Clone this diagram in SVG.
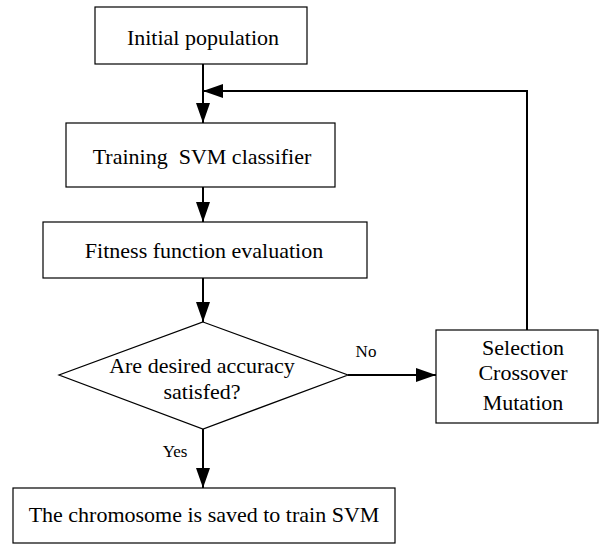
<svg xmlns="http://www.w3.org/2000/svg" width="599" height="545" viewBox="0 0 599 545">
<style>
.box{fill:#fff;stroke:#000;stroke-width:1.2}
.t{font-family:'Times New Roman','Liberation Serif','DejaVu Serif',serif;font-size:22px;fill:#000;text-anchor:middle;white-space:pre}
.lbl{font-family:'Times New Roman','Liberation Serif','DejaVu Serif',serif;font-size:17px;fill:#000;text-anchor:middle}
.c{fill:none;stroke:#000;stroke-width:2}
</style>
<defs>
<marker id="ah" viewBox="0 0 20 14" refX="20" refY="7" markerWidth="20" markerHeight="14" markerUnits="userSpaceOnUse" orient="auto">
<path d="M0,0 L20,7 L0,14 Z" fill="#000"/>
</marker>
</defs>
<rect width="599" height="545" fill="#fff"/>
<g id="connectors">
<line class="c" x1="203" y1="64" x2="203" y2="123" marker-end="url(#ah)"/>
<polyline class="c" points="527,330 527,91 203,91" marker-end="url(#ah)"/>
<line class="c" x1="203" y1="187" x2="203" y2="222" marker-end="url(#ah)"/>
<line class="c" x1="203" y1="278" x2="203" y2="322" marker-end="url(#ah)"/>
<line class="c" x1="348" y1="375" x2="436" y2="375" marker-end="url(#ah)"/>
<line class="c" x1="203" y1="429" x2="203" y2="488" marker-end="url(#ah)"/>
<text class="lbl" x="366" y="357">No</text>
<text class="lbl" x="175" y="457">Yes</text>
</g>
<g id="n1">
<rect class="box" x="95" y="7" width="212" height="57"/>
<text class="t" x="203" y="45">Initial population</text>
</g>
<g id="n2">
<rect class="box" x="66" y="123" width="269" height="64"/>
<text class="t" x="202" y="164">Training  SVM classifier</text>
</g>
<g id="n3">
<rect class="box" x="43" y="222" width="324" height="56"/>
<text class="t" x="204" y="258">Fitness function evaluation</text>
</g>
<g id="n4">
<polygon class="box" points="203,322 348,375 203,429 59,375"/>
<text class="t" x="202" y="373">Are desired accuracy</text>
<text class="t" x="202" y="399">satisfed?</text>
</g>
<g id="n5">
<rect class="box" x="436" y="330" width="162" height="93"/>
<text class="t" x="523" y="355">Selection</text>
<text class="t" x="523" y="380">Crossover</text>
<text class="t" x="523" y="410">Mutation</text>
</g>
<g id="n6">
<rect class="box" x="13" y="488" width="382" height="55"/>
<text class="t" x="204" y="522">The chromosome is saved to train SVM</text>
</g>
</svg>
